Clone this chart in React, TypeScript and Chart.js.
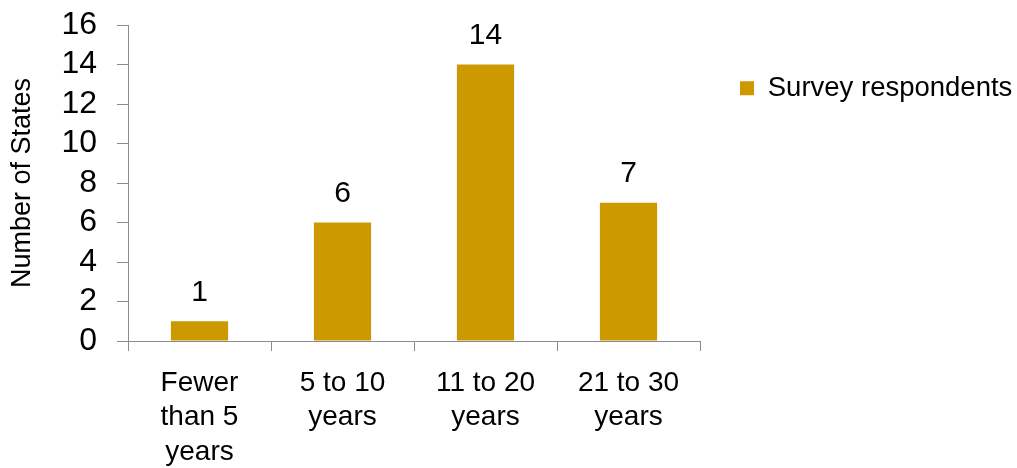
import React, { useEffect, useRef } from "react";
import { Chart, registerables } from "chart.js";

Chart.register(...registerables);

const categories: string[][] = [
  ["Fewer", "than 5", "years"],
  ["5 to 10", "years"],
  ["11 to 20", "years"],
  ["21 to 30", "years"],
];
const seriesName = "Survey respondents";
const values: number[] = [1, 6, 14, 7];
const yTicksMin = 0;
const yTicksMax = 16;
const yTickStep = 2;

const FONT = "'Liberation Sans', Arial, sans-serif";
const GOLD = "#CC9900";
const AXIS = "#8c8c8c";

const valueLabels = {
  id: "valueLabels",
  afterDatasetsDraw(chart: any) {
    const { ctx } = chart;
    const meta = chart.getDatasetMeta(0);
    const data = chart.data.datasets[0].data as number[];
    ctx.save();
    ctx.font = `30px ${FONT}`;
    ctx.fillStyle = "#000";
    ctx.textAlign = "center";
    ctx.textBaseline = "middle";
    meta.data.forEach((bar: any, i: number) => {
      ctx.fillText(String(data[i]), bar.x, bar.y - 29);
    });
    ctx.restore();
  },
};

export default function App() {
  const ref = useRef<HTMLCanvasElement | null>(null);
  useEffect(() => {
    if (!ref.current) return;
    const chart = new Chart(ref.current, {
      type: "bar",
      data: {
        labels: categories,
        datasets: [
          {
            label: seriesName,
            data: values,
            backgroundColor: GOLD,
            borderWidth: 0,
            barPercentage: 0.4,
            categoryPercentage: 1,
          },
        ],
      },
      options: {
        animation: false,
        responsive: false,
        maintainAspectRatio: false,
        layout: { padding: { top: 25, left: 0, right: 0, bottom: 0 } },
        plugins: {
          tooltip: { enabled: false },
          legend: {
            position: "right",
            align: "start",
            maxWidth: 317,
            title: {
              display: true,
              text: "",
              font: { family: FONT, size: 8, lineHeight: 1 },
              padding: { top: 1.5, bottom: 0 },
            },
            labels: {
              boxWidth: 14,
              boxHeight: 14,
              padding: 40,
              color: "#000",
              font: { family: FONT, size: 27.5 },
            },
          },
        },
        scales: {
          x: {
            grid: {
              offset: true,
              drawOnChartArea: false,
              drawTicks: true,
              tickLength: 10,
              color: AXIS,
            },
            border: { display: true, color: AXIS, width: 1 },
            ticks: {
              color: "#000",
              font: { family: FONT, size: 28, lineHeight: 1.23 },
              maxRotation: 0,
              minRotation: 0,
              autoSkip: false,
              padding: 15,
            },
            afterFit(scale: any) {
              scale.height = 127;
            },
          },
          y: {
            min: yTicksMin,
            max: yTicksMax,
            ticks: {
              stepSize: yTickStep,
              autoSkip: false,
              color: "#000",
              font: { family: FONT, size: 32 },
              padding: 20,
            },
            grid: {
              drawOnChartArea: false,
              drawTicks: true,
              tickLength: 11,
              color: AXIS,
            },
            border: { display: true, color: AXIS, width: 1 },
            title: {
              display: true,
              text: "Number of States",
              color: "#000",
              font: { family: FONT, size: 27 },
              padding: { top: 6, bottom: 0 },
            },
            afterFit(scale: any) {
              scale.width = 128;
              scale.paddingTop = 0;
              scale.paddingBottom = 0;
            },
          },
        },
      },
      plugins: [valueLabels],
    });
    return () => chart.destroy();
  }, []);
  return (
    <div style={{ position: "fixed", left: 0, top: 0, width: 1017, height: 468, background: "#fff" }}>
      <canvas ref={ref} width={1017} height={468} style={{ width: 1017, height: 468, display: "block" }} />
    </div>
  );
}
